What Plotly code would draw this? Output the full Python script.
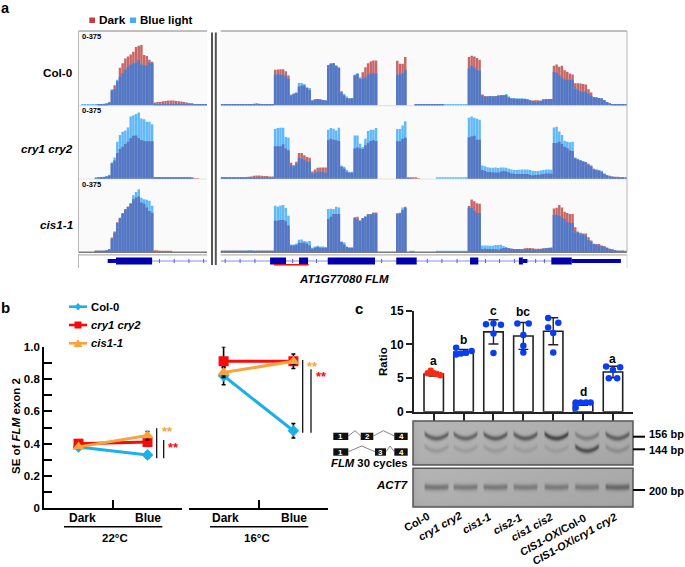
import numpy as np
import plotly.graph_objects as go

W, H = 685, 567
FONT = "Liberation Sans"

# ---------- panel a: coverage values (track maximum = TRACK_MAX units, labelled 0-375) ----------
TRACK_MAX = 222
TRACK_LABEL = "0-375"
ROW_NAMES = ["<b>Col-0</b>", "<b><i>cry1 cry2</i></b>", "<b><i>cis1-1</i></b>"]

R1_LEFT_DARK = [0,0,0,0,0,0,0,1,2,3,5,8,
                44,60,72,112,126,140,146,152,160,174,178,180,150,147,136,130,
                8,10,10,12,13,14,14,14,13,12,11,10,8,7,6,4,1,1,2,2]
R1_LEFT_BLUE = [0,1,2,2,2,2,2,3,4,5,7,10,
                48,48,76,86,96,106,116,122,126,128,136,122,120,120,128,126,
                2,2,2,2,2,2,2,2,2,2,2,1,1,1,1,1,1,1,1,1]
R2_LEFT_DARK = [0,0,0,0,0,0,1,2,3,5,7,10,
                46,55,78,90,97,105,112,122,130,131,122,117,114,113,113,113,
                3,3,3,3,3,3,4,4,3,3,3,2,2,2,2,1,1,0,0,0]
R2_LEFT_BLUE = [0,0,0,0,0,0,2,3,4,6,8,12,
                50,64,112,132,142,146,155,188,192,196,200,182,180,172,172,165,
                4,4,4,4,4,4,5,5,5,5,5,5,3,2,1,0,0,0,0,0]
R3_LEFT_DARK = [0,0,0,0,0,0,1,2,2,3,5,8,
                44,62,90,104,118,130,138,148,160,165,168,150,146,135,124,118,
                5,5,4,4,3,2,1,0,0,0,0,0,0,0,0,0,0,0,0,0]
R3_LEFT_BLUE = [0,0,0,0,0,0,1,2,2,3,5,8,
                40,58,88,102,116,128,136,146,172,182,190,164,160,158,155,140,
                0,0,0,0,0,0,0,0,0,0,0,0,0,0,0,0,0,0,0,0]

R1_RIGHT_DARK = [2,2,2,2,1,1,2,3,3,3,4,4,5,6,5,4,4,3,3,3,
    106,107,108,108,102,89,29,34,37,56,59,59,52,46,14,17,19,17,16,14,120,125,126,118,112,42,29,21,20,21,89,94,79,99,114,126,131,134,134,
    0,0,0,0,0,0,0,
    133,124,124,144,
    0,0,0,3,3,3,3,3,3,3,3,3,3,3,0,0,0,0,0,0,0,0,0,
    144,148,146,141,136,
    32,28,27,28,27,28,30,31,30,30,23,20,20,19,19,19,19,17,15,14,15,15,14,17,19,19,19,
    118,122,115,118,105,100,95,92,
    66,66,65,64,62,48,38,24,23,22,20,15,10,6,3,2,2,2,1,1]
R1_RIGHT_BLUE = [1,1,1,1,1,1,1,1,1,1,1,1,2,2,2,2,2,1,1,1,
    92,92,92,91,89,79,32,36,39,67,67,64,54,52,14,18,19,17,16,14,120,124,126,118,112,38,34,26,21,22,92,94,84,79,84,92,96,96,96,
    0,0,0,0,0,0,0,
    92,92,96,106,
    0,0,0,1,1,1,1,1,1,1,1,2,2,2,2,2,2,2,2,2,2,2,3,
    111,118,113,106,104,
    30,25,26,27,26,27,28,29,31,34,26,22,21,21,21,21,20,19,15,13,12,12,13,17,18,19,19,
    100,98,90,84,78,76,76,76,
    50,46,42,41,40,35,28,24,23,22,20,15,10,6,3,3,3,3,2,2]
R2_RIGHT_DARK = [2,3,2,2,3,3,4,4,5,5,6,7,9,10,10,9,8,8,7,7,
    98,98,98,104,91,86,48,41,51,78,78,71,66,63,22,28,33,34,34,34,116,121,118,116,114,36,31,21,18,18,91,94,91,90,101,108,114,116,114,
    0,0,0,0,0,0,0,
    113,113,121,124,
    2,2,3,3,1,0,0,0,0,0,0,0,0,0,0,0,0,0,0,0,0,0,0,
    125,128,130,118,118,
    26,23,20,20,19,19,18,21,23,22,19,16,14,14,14,14,14,14,11,10,11,12,13,14,16,16,15,
    108,108,112,105,97,92,86,84,
    62,58,55,52,50,45,40,30,28,24,20,16,11,9,7,6,6,5,4,3]
R2_RIGHT_BLUE = [3,3,3,3,3,3,3,3,3,2,2,2,2,3,3,3,3,3,3,3,
    150,153,154,154,126,124,41,38,46,64,61,58,53,51,16,18,21,21,20,18,148,153,151,146,154,40,36,26,21,21,131,131,106,96,121,144,148,148,153,
    0,0,0,0,0,0,0,
    150,150,161,174,
    1,1,0,0,0,0,0,0,0,0,0,2,2,3,3,3,4,4,4,4,4,4,5,
    184,188,184,181,178,
    40,38,35,33,33,34,32,34,34,33,30,28,26,26,27,28,28,28,26,24,23,23,25,26,28,28,27,
    155,157,143,132,115,112,110,112,
    64,60,56,52,50,42,38,28,26,26,24,14,9,7,6,5,4,3,2,1]
R3_RIGHT_DARK = [1,1,1,1,1,1,1,1,1,1,1,1,1,1,1,1,1,1,1,1,
    95,95,97,97,93,80,20,20,22,28,28,28,25,20,10,13,15,13,13,13,100,107,115,115,115,32,23,15,13,13,105,107,95,103,107,115,115,120,120,
    0,0,0,0,0,0,0,
    117,119,127,137,
    0,0,0,0,0,0,0,0,0,0,0,0,0,0,0,0,0,0,0,0,0,0,0,
    139,159,154,148,146,
    9,10,9,9,9,8,7,10,12,12,11,10,9,9,9,9,11,12,12,11,10,10,10,11,12,13,13,
    132,134,142,135,122,118,115,115,
    75,62,58,56,56,45,35,25,24,24,20,18,14,10,8,6,4,2,1,1]
R3_RIGHT_BLUE = [2,2,2,3,3,3,3,3,3,3,5,5,4,4,3,3,3,3,2,2,
    140,137,141,142,133,110,23,23,25,37,38,33,32,33,13,17,19,17,17,15,130,131,130,137,135,30,29,17,14,14,103,99,95,102,108,113,114,117,117,
    0,0,0,0,0,0,0,
    115,117,135,133,
    0,1,1,0,0,0,0,0,0,0,0,2,2,2,2,2,2,2,2,2,2,2,2,
    134,134,126,118,118,
    20,20,20,19,19,21,21,22,18,15,12,10,9,9,9,8,8,9,9,8,8,8,9,10,11,12,13,
    113,113,110,105,100,92,88,88,
    60,58,54,54,50,36,32,24,22,20,18,15,12,9,7,5,3,2,1,0]

LEFT_SERIES = [(R1_LEFT_DARK, R1_LEFT_BLUE), (R2_LEFT_DARK, R2_LEFT_BLUE), (R3_LEFT_DARK, R3_LEFT_BLUE)]
RIGHT_SERIES = [(R1_RIGHT_DARK, R1_RIGHT_BLUE), (R2_RIGHT_DARK, R2_RIGHT_BLUE), (R3_RIGHT_DARK, R3_RIGHT_BLUE)]
for d, b in LEFT_SERIES:
    assert len(d) == 48 and len(b) == 48
for d, b in RIGHT_SERIES:
    assert len(d) == 153 and len(b) == 153

# gene model, in the bin units of the two coverage axes
LEFT_INTRON = [27.5, 48]
LEFT_THIN = [[10.9, 14]]
LEFT_THICK = [[14, 27.5]]
RIGHT_INTRON = [0, 150.7]
RIGHT_THICK = [[18.6, 24.6], [29.5, 32.9], [40.3, 58.1], [66.1, 73.8], [93.9, 97], [112.3, 113.8], [124.5, 132.2]]
RIGHT_THIN = [[113.8, 115.5], [132.2, 150.7]]
LEFT_ARROWS = [30.25, 35.75, 41.25, 46.75]
RIGHT_ARROWS = [1.7, 7.3, 12.9, 27.1, 36.1, 60.6, 77.8, 83.3, 89, 99.7, 105, 110.6, 118.6, 121.9]
RED_PROBE = [20.0, 33.1]

# ---------- panel b ----------
B_GROUP = [0, 1]
COL_22, COL_22_ERR = [0.38, 0.33], [0.012, 0.02]
CRY_22, CRY_22_ERR = [0.40, 0.41], [0.015, 0.02]
CIS_22, CIS_22_ERR = [0.38, 0.45], [0.015, 0.025]
COL_16, COL_16_ERR = [0.82, 0.48], [0.055, 0.045]
CRY_16, CRY_16_ERR = [0.91, 0.91], [0.09, 0.045]
CIS_16, CIS_16_ERR = [0.84, 0.91], [0.03, 0.02]

# ---------- panel c ----------
C_LABELS = ["Col-0", "<i>cry1 cry2</i>", "<i>cis1-1</i>", "<i>cis2-1</i>", "<i>cis1 cis2</i>",
            "<i>CIS1-OX</i>/Col-0", "<i>CIS1-OX</i>/<i>cry1 cry2</i>"]
C_MEANS = [5.6, 8.85, 11.85, 11.25, 11.95, 1.25, 5.9]
C_SD = [0.3, 0.4, 1.8, 2.0, 2.0, 0.3, 0.85]
C_LETTERS = ["a", "b", "c", "bc", "c", "d", "a"]
C_LETTER_Y = [7.6, 10.7, 15.0, 14.8, 15.2, 3.0, 7.9]
C_PT_OFFSET = [[-0.2, -0.1, 0.0, 0.1, 0.22], [-0.25, -0.25, -0.09, 0.08, 0.27], [-0.25, 0.25, 0, 0, 0],
               [-0.2, 0.18, 0, 0, 0], [-0.17, -0.17, 0.17, 0, 0], [-0.25, -0.25, -0.08, 0.1, 0.25],
               [-0.23, 0, 0.24, -0.14, 0.14]]
C_PT_VALUE = [[5.7, 6.1, 5.7, 5.6, 5.4], [9.5, 8.5, 8.66, 8.76, 9.0], [13.0, 12.9, 13.1, 11.6, 8.7],
              [13.1, 13.1, 11.4, 9.8, 8.8], [13.9, 12.5, 13.2, 11.7, 8.8], [1.35, 0.6, 1.35, 1.35, 1.35],
              [6.7, 6.2, 6.6, 4.95, 4.95]]

# gel band darkness per lane
LANE_PX = [23, 52, 82, 112, 143, 173.5, 204]
GEL_UPPER = [78, 72, 80, 80, 100, 42, 72]
GEL_LOWER = [22, 18, 18, 15, 15, 88, 26]
GEL_ACT = [58, 52, 52, 48, 48, 48, 64]


def dx(a, b):
    return [a / W, b / W]


def dy(top, bot):
    return [1 - bot / H, 1 - top / H]


shapes, ann = [], []


def line(x0, y0, x1, y1, color="black", width=1.5, layer="above"):
    shapes.append(dict(type="line", xref="paper", yref="paper", x0=x0 / W, x1=x1 / W, y0=1 - y0 / H, y1=1 - y1 / H,
                       line=dict(color=color, width=width), layer=layer))


def rect(x0, y0, x1, y1, fill, lw=0, lc="rgba(0,0,0,0)", layer="above"):
    shapes.append(dict(type="rect", xref="paper", yref="paper", x0=x0 / W, x1=x1 / W, y0=1 - y0 / H, y1=1 - y1 / H,
                       fillcolor=fill, line=dict(color=lc, width=lw), layer=layer))


def text(x, y, s, size=11, anchor="center", color="black", angle=0):
    ann.append(dict(xref="paper", yref="paper", x=x / W, y=1 - y / H, text=s, showarrow=False, xanchor=anchor,
                    yanchor="middle", textangle=angle, font=dict(size=size, color=color, family=FONT),
                    borderpad=0, borderwidth=0))


fig = go.Figure()
C_DARK, C_BLUE, C_OVER = "#c76664", "#5fb8f8", "#5676c3"

# coverage tracks
ROW_TOPS = [31, 105.3, 178.7]
ROW_BOTS = [105.3, 178.7, 252]
YAX = ["y", "y2", "y3"]
for r in range(3):
    for xa, series in (("x", LEFT_SERIES[r]), ("x2", RIGHT_SERIES[r])):
        dark, blue = np.array(series[0]), np.array(series[1])
        xs = np.arange(len(dark)) + 0.5
        for vals, col, nm in ((dark, C_DARK, "Dark"), (blue, C_BLUE, "Blue light"),
                              (np.minimum(dark, blue), C_OVER, "Overlap")):
            fig.add_trace(go.Bar(x=xs, y=vals, width=0.92, marker=dict(color=col, line=dict(width=0)), name=nm,
                                 xaxis=xa, yaxis=YAX[r], showlegend=False, hoverinfo="skip"))


def gene(xa, segs, width, col):
    xs, ys = [], []
    for a, b in segs:
        xs += [a, b, None]
        ys += [0.5, 0.5, None]
    fig.add_trace(go.Scatter(x=xs, y=ys, mode="lines", line=dict(color=col, width=width), xaxis=xa, yaxis="y4",
                             showlegend=False, hoverinfo="skip"))


GENE_BLUE = "#0000b0"
gene("x", [LEFT_INTRON], 1, "#8a8af0")
gene("x2", [RIGHT_INTRON], 1, "#8a8af0")
for xa, arr in (("x", LEFT_ARROWS), ("x2", RIGHT_ARROWS)):
    fig.add_trace(go.Scatter(x=arr, y=[0.5] * len(arr), mode="markers", xaxis=xa, yaxis="y4", showlegend=False,
                             marker=dict(symbol="line-ns", size=3, line=dict(color="#5a5aea", width=1)),
                             hoverinfo="skip"))
gene("x", LEFT_THIN, 4, GENE_BLUE)
gene("x", LEFT_THICK, 7, GENE_BLUE)
gene("x2", RIGHT_THIN, 4, GENE_BLUE)
gene("x2", RIGHT_THICK, 7, GENE_BLUE)
fig.add_trace(go.Scatter(x=RED_PROBE, y=[0.12, 0.12], mode="lines", line=dict(color="#ee1111", width=1.6),
                         xaxis="x2", yaxis="y4", showlegend=False, hoverinfo="skip"))

# panel b traces
C_COL, C_CRY, C_CIS = "#1bb0ea", "#f80a0a", "#f9a33c"
for xa, data in (("x3", ((COL_22, COL_22_ERR), (CRY_22, CRY_22_ERR), (CIS_22, CIS_22_ERR))),
                 ("x4", ((COL_16, COL_16_ERR), (CRY_16, CRY_16_ERR), (CIS_16, CIS_16_ERR)))):
    for (vals, err), col, sym, sz, nm in zip(data, (C_COL, C_CRY, C_CIS), ("diamond", "square", "triangle-up"),
                                             (9, 10, 11), ("Col-0", "cry1 cry2", "cis1-1")):
        fig.add_trace(go.Scatter(x=B_GROUP, y=vals, mode="lines+markers", xaxis=xa, yaxis="y5", name=nm,
                                 showlegend=False, line=dict(color=col, width=3),
                                 marker=dict(symbol=sym, size=sz, color=col),
                                 error_y=dict(type="data", array=err, color="black", thickness=1.6, width=2),
                                 cliponaxis=False))

# panel c traces
fig.add_trace(go.Bar(x=list(range(7)), y=C_MEANS, width=0.65, xaxis="x5", yaxis="y6", showlegend=False,
                     marker=dict(color="white", line=dict(color="#222222", width=1.6)),
                     error_y=dict(type="data", array=C_SD, color="#222222", thickness=1.4, width=5)))
for i, (off, vals) in enumerate(zip(C_PT_OFFSET, C_PT_VALUE)):
    fig.add_trace(go.Scatter(x=[i + o for o in off], y=vals, mode="markers", xaxis="x5", yaxis="y6", showlegend=False,
                             marker=dict(size=6.5, color="#ff2a12" if i == 0 else "#0a3df2"), cliponaxis=False))


# gels
def gel(height, bands, bg_top, bg_bot, curve, sigma):
    xg = np.arange(220)
    yg = np.arange(height)
    X, Y = np.meshgrid(xg, yg)
    img = bg_top + (bg_bot - bg_top) * (Y / height) - 10 * (X / 220)
    img = img - 12 * np.exp(-X / 3) - 10 * np.exp(-(height - 1 - Y) / 2)
    for y0, dark in bands:
        for c, k in zip(LANE_PX, dark):
            u = (X - c) / 11.5
            edge = np.clip((1.12 - np.abs(u)) / 0.18, 0, 1)
            img = img - k * edge * np.exp(-((Y - (y0 - curve * u ** 2)) / sigma) ** 2)
    return img


g1 = gel(44, [(17.0, GEL_UPPER), (29.5, GEL_LOWER)], 182, 175, 4.5, 2.6)
g2 = gel(39, [(19.0, GEL_ACT)], 180, 175, 0.6, 3.2)
for img, ya in ((g1, "y7"), (g2, "y8")):
    fig.add_trace(go.Heatmap(z=img, x=np.arange(220) + 0.5, y=np.arange(img.shape[0]) + 0.5, xaxis="x6", yaxis=ya,
                             colorscale=[[0, "black"], [1, "white"]], zmin=0, zmax=255, showscale=False,
                             hoverinfo="skip"))

# ----- decoration panel a -----
for x0, x1 in ((78.5, 207), (220.7, 627)):
    rect(x0, 31, x1, 252, "#fafafa", layer="below")
    line(x0, 31, x1, 31, "#ababab", 1.5)
    line(x0, 105.6, x1, 105.6, "#e4e4e4", 1.2, layer="below")
    line(x0, 179, x1, 179, "#e4e4e4", 1.2, layer="below")
    line(x0, 252.3, x1, 252.3, "#7a7a7a", 1.5)
    line(x0, 254.8, x1, 254.8, "#b4b4b4", 1.2)
line(78.5, 31, 78.5, 252, "#b8b8b8", 1)
line(78.5, 254, 78.5, 268, "#b8b8b8", 1)
line(627, 31, 627, 252, "#b8b8b8", 1)
line(627, 254, 627, 268, "#d8d8d8", 1)
line(212, 32.5, 212, 265, "#555555", 2)
line(215.8, 32.5, 215.8, 265, "#555555", 2)
rect(89.3, 17.5, 95, 23, "#c23f3f")
rect(130, 17.5, 136, 23, "#42abf8")
text(99, 20, "<b>Dark</b>", 11.8, "left")
text(140, 20, "<b>Blue light</b>", 11.5, "left")
for nm, y in zip(ROW_NAMES, (72, 148.5, 225)):
    text(72.5, y, nm, 11.7, "right")
for y in (37, 110.7, 184.3):
    text(82, y, "<b>" + TRACK_LABEL + "</b>", 7.5, "left")
text(344, 278.5, "<b><i>AT1G77080 FLM</i></b>", 11.5)
text(5, 8, "<b>a</b>", 14.5, "center")
text(5, 307, "<b>b</b>", 15, "center")
text(359, 308, "<b>c</b>", 15, "center")

# ----- decoration panel b -----
for y, col, nm in ((306.7, C_COL, "Col-0"), (325, C_CRY, "<i>cry1 cry2</i>"), (343.3, C_CIS, "<i>cis1-1</i>")):
    line(69, y, 87, y, col, 2.6)
    text(91, y, "<b>" + nm + "</b>", 11.3, "left")
shapes.append(dict(type="path", xref="paper", yref="paper", fillcolor=C_COL, line=dict(width=0),
                   path="M %f %f L %f %f L %f %f L %f %f Z" % (74.5 / W, 1 - 306.7 / H + 0, 78 / W, 1 - 303 / H,
                                                               81.5 / W, 1 - 306.7 / H, 78 / W, 1 - 310.4 / H)))
rect(74.5, 321.5, 81.5, 328.5, C_CRY)
shapes.append(dict(type="path", xref="paper", yref="paper", fillcolor=C_CIS, line=dict(width=0),
                   path="M %f %f L %f %f L %f %f Z" % (73.5 / W, 1 - 347 / H, 82.5 / W, 1 - 347 / H,
                                                       78 / W, 1 - 339 / H)))
text(82.5, 518, "<b>Dark</b>", 12)
text(147.5, 518, "<b>Blue</b>", 12)
text(225.5, 518, "<b>Dark</b>", 12)
text(294, 518, "<b>Blue</b>", 12)
line(64, 526.8, 162.3, 526.8, "black", 1.5)
line(210, 526.8, 308.3, 526.8, "black", 1.5)
text(115, 537.5, "<b>22°C</b>", 11.5)
text(257, 537.5, "<b>16°C</b>", 11.5)
text(15.5, 426.5, "<b>SE of <i>FLM</i> exon 2</b>", 11.5, angle=-90)
line(156.7, 428.3, 156.7, 458.3, "black", 1.2)
line(163.7, 440, 163.7, 458.3, "black", 1.2)
line(302.7, 360, 302.7, 432.7, "black", 1.2)
line(311, 369.3, 311, 432.7, "black", 1.2)
text(167.3, 431.5, "<b>**</b>", 13, color=C_CIS)
text(173, 447.5, "<b>**</b>", 13, color=C_CRY)
text(312.7, 366, "<b>**</b>", 13, color=C_CIS)
text(321.3, 376, "<b>**</b>", 13, color=C_CRY)

# ----- decoration panel c -----
for i, (lt, ly) in enumerate(zip(C_LETTERS, C_LETTER_Y)):
    ann.append(dict(xref="x5", yref="y6", x=i, y=ly, text="<b>" + lt + "</b>", showarrow=False,
                    font=dict(size=12, family=FONT, color="black"), yanchor="middle"))
text(382.5, 361.5, "<b>Ratio</b>", 11.5, angle=-90)
rect(413, 421, 633, 465, "rgba(0,0,0,0)", 1.5, "#555555")
rect(413, 468.3, 633, 507, "rgba(0,0,0,0)", 1.5, "#555555")
for y in (436.7, 449.3, 490):
    line(633, y, 645, y, "black", 2)
text(649, 434, "<b>156 bp</b>", 11, "left")
text(649, 450, "<b>144 bp</b>", 11, "left")
text(649, 491, "<b>200 bp</b>", 11, "left")
for x0, x1, y0, y1, s in ((333.3, 348.3, 432.7, 440, "1"), (360.7, 373.3, 432.7, 440, "2"), (394.3, 407.7, 432.7, 440, "4"),
                          (333.3, 348.3, 448.3, 455.7, "1"), (375, 386, 448.3, 455.7, "3"), (394.3, 407.7, 448.3, 455.7, "4")):
    rect(x0, y0, x1, y1, "#111111")
    text((x0 + x1) / 2, (y0 + y1) / 2, "<b>" + s + "</b>", 8, color="white")
for pts in (((348.3, 436), (355, 430.7), (360.7, 436)), ((373.3, 436), (383.3, 430.7), (394.3, 436)),
            ((348.3, 451.7), (361.7, 446), (375, 451.7)), ((386, 451.7), (390, 446), (394.3, 451.7))):
    line(*pts[0], *pts[1], "#666666", 0.8)
    line(*pts[1], *pts[2], "#666666", 0.8)
text(408, 463, "<b><i>FLM</i> 30 cycles</b>", 11.3, "right")
text(407.5, 485, "<b><i>ACT7</i></b>", 11.5, "right")
for lab, cx, cy in zip(C_LABELS, (416, 439.5, 476.5, 507, 531.5, 552.5, 574),
                       (521.5, 526, 523, 524, 527, 535, 538.5)):
    text(cx, cy, "<b>" + lab + "</b>", 10.9, angle=-29)

hidden = dict(visible=False, showgrid=False, zeroline=False, fixedrange=True, automargin=False)
fig.update_layout(
    width=W, height=H, margin=dict(l=0, r=0, t=0, b=0, pad=0, autoexpand=False), paper_bgcolor="white",
    plot_bgcolor="rgba(0,0,0,0)",
    barmode="overlay", showlegend=False, font=dict(family=FONT, color="black"), shapes=shapes, annotations=ann,
    xaxis=dict(hidden, domain=dx(78.5, 207), range=[0, 48], anchor="y"),
    xaxis2=dict(hidden, domain=dx(220.7, 627), range=[0, 153], anchor="y"),
    yaxis=dict(hidden, domain=dy(ROW_TOPS[0], ROW_BOTS[0]), range=[0, TRACK_MAX], anchor="x"),
    yaxis2=dict(hidden, domain=dy(ROW_TOPS[1], ROW_BOTS[1]), range=[0, TRACK_MAX], anchor="x"),
    yaxis3=dict(hidden, domain=dy(ROW_TOPS[2], ROW_BOTS[2]), range=[0, TRACK_MAX], anchor="x"),
    yaxis4=dict(hidden, domain=dy(256, 266), range=[0, 1], anchor="x"),
    xaxis3=dict(domain=dx(44, 182), range=[-0.5, 1.5], anchor="y5", showgrid=False, zeroline=False, showline=True,
                linecolor="black", linewidth=1.8, ticks="inside", ticklen=8, tickwidth=1.8, tickcolor="black",
                tickvals=[-0.5, 0.5, 1.5], showticklabels=False, automargin=False),
    xaxis4=dict(domain=dx(188.7, 328.3), range=[-0.5, 1.5], anchor="y5", showgrid=False, zeroline=False, showline=True,
                linecolor="black", linewidth=1.8, ticks="inside", ticklen=8, tickwidth=1.8, tickcolor="black",
                tickvals=[-0.5, 0.5, 1.5], showticklabels=False, automargin=False),
    yaxis5=dict(domain=dy(346.7, 508.3), range=[0, 1], anchor="x3", showgrid=False, zeroline=False, showline=True,
                linecolor="black", linewidth=1.8, ticks="inside", ticklen=8, tickwidth=1.8, tickcolor="black",
                tickvals=[0, 0.1, 0.2, 0.3, 0.4, 0.5, 0.6, 0.7, 0.8, 0.9, 1.0], automargin=False,
                ticktext=["<b>0</b>", "", "<b>0.2</b>", "", "<b>0.4</b>", "", "<b>0.6</b>", "", "<b>0.8</b>", "", "<b>1.0</b>"],
                tickfont=dict(size=11.5, family=FONT, color="black")),
    xaxis5=dict(domain=dx(414, 633), range=[-0.66, 6.67], anchor="y6", showgrid=False, zeroline=False, showline=True,
                linecolor="#222222", linewidth=1.8, ticks="outside", ticklen=7, tickwidth=1.5, tickcolor="#222222",
                tickvals=list(range(7)), showticklabels=False, automargin=False),
    yaxis6=dict(domain=dy(310.7, 411.7), range=[0, 15], anchor="x5", showgrid=False, zeroline=False, showline=True,
                linecolor="#222222", linewidth=1.8, ticks="outside", ticklen=6, tickwidth=1.8, tickcolor="#222222",
                tickvals=[0, 5, 10, 15], ticktext=["<b>0</b>", "<b>5</b>", "<b>10</b>", "<b>15</b>"], automargin=False,
                tickfont=dict(size=12, family=FONT, color="black")),
    xaxis6=dict(hidden, domain=dx(413, 633), range=[0, 220], anchor="y7"),
    yaxis7=dict(hidden, domain=dy(421, 465), range=[44, 0], anchor="x6"),
    yaxis8=dict(hidden, domain=dy(468.3, 507), range=[39, 0], anchor="x6"),
)

fig.write_html("out.html", config=dict(displayModeBar=False, responsive=False),
               post_script="document.body.style.margin='0';document.body.style.overflow='hidden';")
